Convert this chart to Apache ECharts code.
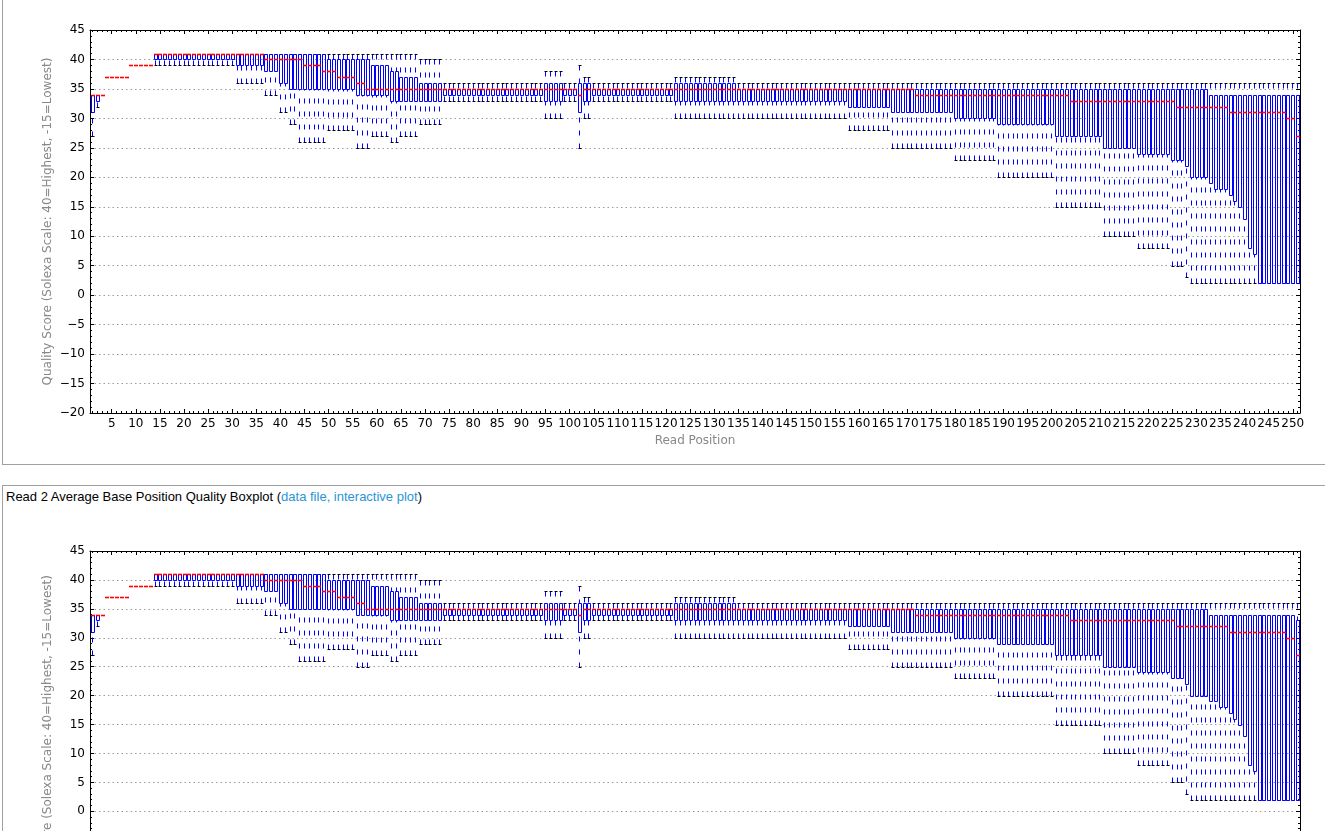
<!DOCTYPE html>
<html>
<head>
<meta charset="utf-8">
<title>Base Position Quality Boxplot</title>
<script src="https://cdn.jsdelivr.net/npm/echarts@6/dist/echarts.min.js"></script>
<style>
  html, body { margin: 0; padding: 0; background: #fff; width: 1325px; height: 831px; overflow: hidden; }
  .panel { position: absolute; left: 2px; width: 1360px; border: 1px solid #a0a0a0; background: #fff; }
  #panel1 { top: -36px; height: 499px; }
  #panel2 { top: 485px; height: 520px; }
  .title { position: absolute; left: 3px; top: 3px; font: 13px "Liberation Sans", Arial, sans-serif; color: #000; line-height: 15px; white-space: nowrap; }
  .title a { color: #2a94d6; text-decoration: none; }
  .chart { position: absolute; left: 0; width: 1325px; }
  #chart1 { top: 0; height: 463px; }
  #chart2 { top: 486px; height: 480px; }
</style>
</head>
<body>
<div class="panel" id="panel1">
  <div class="title">Read 1 Average Base Position Quality Boxplot (<a href="#">data file, interactive plot</a>)</div>
</div>
<div class="panel" id="panel2">
  <div class="title">Read 2 Average Base Position Quality Boxplot (<a href="#">data file, interactive plot</a>)</div>
</div>
<div class="chart" id="chart1"></div>
<div class="chart" id="chart2"></div>
<script>
// read positions 1..251 (the last one sits on the right frame)
const positions = [];
for (let p = 1; p <= 251; p++) positions.push(String(p));

// y axis range / ticks
const yMin = -20;
const yMax = 45;
const yStep = 5;

// runs of equal boxes:
// [firstPos, lastPos, min, q1, median, q3, max]
const read1Runs = [
  [1, 1, 27, 31, 34, 34, 34],
  [2, 2, 32, 33, 34, 34, 34],
  [3, 3, 34, 34, 34, 34, 34],
  [4, 8, 37, 37, 37, 37, 37],
  [9, 13, 39, 39, 39, 39, 39],
  [14, 30, 39, 40, 41, 41, 41],
  [31, 36, 36, 39, 41, 41, 41],
  [37, 39, 34, 38, 40, 41, 41],
  [40, 41, 31, 36, 40, 41, 41],
  [42, 43, 29, 35, 40, 41, 41],
  [44, 44, 26, 35, 40, 41, 41],
  [45, 48, 26, 35, 39, 41, 41],
  [49, 49, 26, 35, 38, 41, 41],
  [50, 51, 28, 35, 38, 40, 41],
  [52, 55, 28, 35, 37, 40, 41],
  [56, 57, 25, 34, 36, 40, 41],
  [58, 58, 25, 34, 35, 40, 41],
  [59, 62, 27, 34, 35, 39, 41],
  [63, 64, 26, 33, 35, 38, 41],
  [65, 68, 27, 33, 35, 37, 41],
  [69, 73, 29, 33, 35, 36, 40],
  [74, 94, 33, 34, 35, 35, 36],
  [95, 98, 30, 33, 35, 36, 38],
  [99, 101, 33, 34, 35, 35, 36],
  [102, 102, 25, 31, 34, 36, 39],
  [103, 104, 30, 33, 35, 36, 37],
  [105, 121, 33, 34, 35, 35, 36],
  [122, 134, 30, 33, 35, 36, 37],
  [135, 157, 30, 33, 35, 35, 36],
  [158, 166, 28, 32, 35, 35, 36],
  [167, 171, 25, 31, 35, 35, 36],
  [172, 179, 25, 31, 34, 35, 36],
  [180, 188, 23, 30, 34, 35, 36],
  [189, 200, 20, 29, 34, 35, 36],
  [201, 203, 15, 27, 34, 35, 36],
  [204, 210, 15, 27, 33, 35, 36],
  [211, 217, 10, 25, 33, 35, 36],
  [218, 224, 8, 24, 33, 35, 36],
  [225, 225, 5, 23, 33, 35, 36],
  [226, 227, 5, 23, 32, 35, 36],
  [228, 228, 3, 22, 32, 35, 36],
  [229, 232, 2, 20, 32, 35, 36],
  [233, 233, 2, 19, 32, 34, 36],
  [234, 236, 2, 18, 32, 34, 36],
  [237, 237, 2, 17, 31, 34, 36],
  [238, 238, 2, 16, 31, 34, 36],
  [239, 239, 2, 15, 31, 34, 36],
  [240, 240, 2, 13, 31, 34, 36],
  [241, 241, 2, 8, 31, 34, 36],
  [242, 242, 2, 7, 31, 34, 36],
  [243, 248, 2, 2, 31, 34, 36],
  [249, 250, 2, 2, 30, 34, 36],
  [251, 251, 2, 2, 27, 34, 36]
];

const read2Runs = [
  [1, 1, 27, 31, 34, 34, 34],
  [2, 2, 32, 33, 34, 34, 34],
  [3, 3, 34, 34, 34, 34, 34],
  [4, 8, 37, 37, 37, 37, 37],
  [9, 13, 39, 39, 39, 39, 39],
  [14, 30, 39, 40, 41, 41, 41],
  [31, 36, 36, 39, 41, 41, 41],
  [37, 39, 34, 38, 40, 41, 41],
  [40, 41, 31, 36, 40, 41, 41],
  [42, 43, 29, 35, 40, 41, 41],
  [44, 44, 26, 35, 40, 41, 41],
  [45, 48, 26, 35, 39, 41, 41],
  [49, 49, 26, 35, 38, 41, 41],
  [50, 51, 28, 35, 38, 40, 41],
  [52, 55, 28, 35, 37, 40, 41],
  [56, 57, 25, 34, 36, 40, 41],
  [58, 58, 25, 34, 35, 40, 41],
  [59, 62, 27, 34, 35, 39, 41],
  [63, 64, 26, 33, 35, 38, 41],
  [65, 68, 27, 33, 35, 37, 41],
  [69, 73, 29, 33, 35, 36, 40],
  [74, 94, 33, 34, 35, 35, 36],
  [95, 98, 30, 33, 35, 36, 38],
  [99, 101, 33, 34, 35, 35, 36],
  [102, 102, 25, 31, 34, 36, 39],
  [103, 104, 30, 33, 35, 36, 37],
  [105, 121, 33, 34, 35, 35, 36],
  [122, 134, 30, 33, 35, 36, 37],
  [135, 157, 30, 33, 35, 35, 36],
  [158, 166, 28, 32, 35, 35, 36],
  [167, 171, 25, 31, 35, 35, 36],
  [172, 179, 25, 31, 34, 35, 36],
  [180, 188, 23, 30, 34, 35, 36],
  [189, 200, 20, 29, 34, 35, 36],
  [201, 203, 15, 27, 34, 35, 36],
  [204, 210, 15, 27, 33, 35, 36],
  [211, 217, 10, 25, 33, 35, 36],
  [218, 224, 8, 24, 33, 35, 36],
  [225, 225, 5, 23, 33, 35, 36],
  [226, 227, 5, 23, 32, 35, 36],
  [228, 228, 3, 22, 32, 35, 36],
  [229, 232, 2, 20, 32, 35, 36],
  [233, 234, 2, 19, 32, 34, 36],
  [235, 236, 2, 18, 32, 34, 36],
  [237, 237, 2, 17, 31, 34, 36],
  [238, 238, 2, 16, 31, 34, 36],
  [239, 239, 2, 15, 31, 34, 36],
  [240, 240, 2, 13, 31, 34, 36],
  [241, 241, 2, 8, 31, 34, 36],
  [242, 242, 2, 7, 31, 34, 36],
  [243, 248, 2, 2, 31, 34, 36],
  [249, 250, 2, 2, 30, 34, 36],
  [251, 251, 2, 2, 27, 33, 36]
];

const BOX = "#0000ff";
const MED = "#ff0000";
const CAP = "#000000";
const FONT = "DejaVu Sans";

document.addEventListener("DOMContentLoaded", function () {
  // one row per read position: [categoryIndex, min, q1, median, q3, max]
  function expandRuns(runs) {
    const rows = [];
    runs.forEach(function (r) {
      for (let p = r[0]; p <= r[1]; p++) {
        rows.push([p - 1, r[2], r[3], r[4], r[5], r[6]]);
      }
    });
    return rows;
  }

  function crisp(v) {
    return Math.round(v) + 0.5;
  }

  const W = 3;

  // whiskers + caps + box
  function renderBox(params, api) {
    const idx = api.value(0);
    const lo = api.coord([idx, api.value(1)]);
    const q1 = api.coord([idx, api.value(2)]);
    const q3 = api.coord([idx, api.value(4)]);
    const hi = api.coord([idx, api.value(5)]);
    const rx = crisp(lo[0] - W / 2);
    const cx = rx + 1;
    const yLo = crisp(lo[1]), yQ1 = crisp(q1[1]), yQ3 = crisp(q3[1]), yHi = crisp(hi[1]);
    const kids = [];
    if (yLo - yQ1 > 1) {
      kids.push({ type: "line", shape: { x1: cx, y1: yLo, x2: cx, y2: yQ1 },
        style: { stroke: BOX, lineWidth: 1, lineDash: [5, 8] } });
    }
    if (yQ3 - yHi > 1) {
      kids.push({ type: "line", shape: { x1: cx, y1: yHi, x2: cx, y2: yQ3 },
        style: { stroke: BOX, lineWidth: 1, lineDash: [5, 8] } });
    }
    kids.push({ type: "line", shape: { x1: rx, y1: yLo, x2: rx + W, y2: yLo }, style: { stroke: CAP, lineWidth: 1 } });
    kids.push({ type: "line", shape: { x1: rx, y1: yHi, x2: rx + W, y2: yHi }, style: { stroke: CAP, lineWidth: 1 } });
    if (yQ1 - yQ3 > 0.5) {
      kids.push({ type: "rect", shape: { x: rx, y: yQ3, width: W, height: yQ1 - yQ3 },
        style: { fill: null, stroke: BOX, lineWidth: 1 } });
    }
    return { type: "group", children: kids };
  }

  // red median dash, drawn by its own series so it stays on top
  function renderMedian(params, api) {
    const idx = api.value(0);
    const md = api.coord([idx, api.value(3)]);
    const rx = crisp(md[0] - W / 2);
    const y = crisp(md[1]);
    return { type: "line", shape: { x1: rx - 0.5, y1: y, x2: rx + W + 0.5, y2: y },
      style: { stroke: MED, lineWidth: 1.6 } };
  }

  function every5(i) {
    return (i + 1) % 5 === 0;
  }

  function xAxisPair(pos, withLabels) {
    const major = {
      type: "category", data: positions, position: pos, boundaryGap: true, gridIndex: 0,
      axisLine: { show: true, onZero: false, lineStyle: { color: "#000", width: 1 } },
      axisTick: { show: true, inside: true, length: 4, alignWithLabel: true, interval: every5, lineStyle: { color: "#000" } },
      axisLabel: { show: withLabels, interval: every5, margin: 5, color: "#000", fontSize: 12, fontFamily: FONT },
      splitLine: { show: false }
    };
    if (withLabels) {
      major.name = "Read Position";
      major.nameLocation = "middle";
      major.nameGap = 22;
      major.nameMoveOverlap = false;
      major.nameTextStyle = { color: "#888", fontSize: 12, fontFamily: FONT };
    }
    const minor = {
      type: "category", data: positions, position: pos, boundaryGap: true, gridIndex: 0,
      axisLine: { show: false, onZero: false },
      axisTick: { show: true, inside: true, length: 2, alignWithLabel: true, interval: 0, lineStyle: { color: "#000" } },
      axisLabel: { show: false },
      splitLine: { show: false }
    };
    return [major, minor];
  }

  function yAxisDef(pos, withLabels) {
    const ax = {
      type: "value", position: pos, min: yMin, max: yMax, interval: yStep,
      axisLine: { show: true, lineStyle: { color: "#000", width: 1 } },
      axisTick: { show: true, inside: true, length: 4, lineStyle: { color: "#000" } },
      minorTick: { show: true, splitNumber: 5, length: 2, lineStyle: { color: "#000" } },
      axisLabel: {
        show: withLabels, margin: 5, color: "#000", fontSize: 12, fontFamily: FONT,
        formatter: function (v) { return v < 0 ? "\u2212" + (-v) : String(v); }
      },
      splitLine: { show: withLabels, lineStyle: { color: "#9a9a9a", width: 1, type: [1.5, 3] } }
    };
    if (withLabels) {
      ax.name = "Quality Score (Solexa Scale: 40=Highest, -15=Lowest)";
      ax.nameLocation = "middle";
      ax.nameGap = 36;
      ax.nameMoveOverlap = false;
      ax.nameTextStyle = { color: "#888", fontSize: 12, fontFamily: FONT };
    }
    return ax;
  }

  function buildOption(runs, top) {
    const rows = expandRuns(runs);
    return {
      animation: false,
      grid: { left: 90, top: top, width: 1210, height: 383 },
      xAxis: xAxisPair("bottom", true).concat(xAxisPair("top", false)),
      yAxis: [yAxisDef("left", true), yAxisDef("right", false)],
      series: [{
        type: "custom",
        xAxisIndex: 0,
        yAxisIndex: 0,
        renderItem: renderBox,
        encode: { x: 0, y: [1, 2, 3, 4, 5] },
        data: rows,
        z: 2
      }, {
        type: "custom",
        xAxisIndex: 0,
        yAxisIndex: 0,
        renderItem: renderMedian,
        encode: { x: 0, y: [1, 2, 3, 4, 5] },
        data: rows,
        z: 4
      }]
    };
  }

  const chart1 = echarts.init(document.getElementById("chart1"));
  chart1.setOption(buildOption(read1Runs, 30));
  const chart2 = echarts.init(document.getElementById("chart2"));
  chart2.setOption(buildOption(read2Runs, 65));
});
</script>
</body>
</html>
